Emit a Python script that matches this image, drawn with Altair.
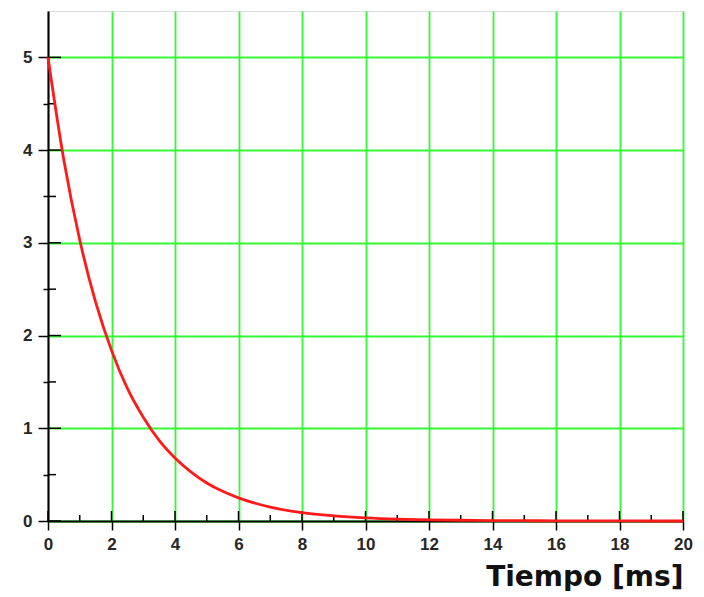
import altair as alt
import pandas as pd

# Curve values (tiempo in ms, amplitude)
t_vals = [0, 0.5, 1, 1.5, 2, 2.5, 3, 3.5, 4, 4.5, 5, 5.5, 6, 7, 8, 9, 10, 11, 12, 13, 14, 15, 16, 17, 18, 19, 20]
v_vals = [5.0, 3.89, 3.03, 2.36, 1.84, 1.43, 1.12, 0.87, 0.68, 0.53, 0.41, 0.32, 0.25, 0.15, 0.09, 0.056, 0.034, 0.02, 0.012, 0.008, 0.005, 0.003, 0.002, 0.001, 0.001, 0.0, 0.0]

x_major = [0, 2, 4, 6, 8, 10, 12, 14, 16, 18, 20]
x_minor = [1, 3, 5, 7, 9, 11, 13, 15, 17, 19]
y_major = [0, 1, 2, 3, 4, 5]
y_minor = [0.5, 1.5, 2.5, 3.5, 4.5]

W, H = 635, 510
FONT = "DejaVu Sans"
LFONT = "Liberation Sans"

curve = pd.DataFrame({"t": t_vals, "v": v_vals})

xscale = alt.Scale(domain=[0, 20], nice=False, zero=False)
yscale = alt.Scale(domain=[0, 5.5], nice=False, zero=False)

x_axis = alt.Axis(
    values=sorted(x_major + x_minor),
    labelExpr="datum.value % 2 === 0 ? format(datum.value, 'd') : ''",
    tickSize={"condition": {"test": "datum.value % 2 === 0", "value": 9}, "value": 5},
    tickColor="black", tickWidth=1.5,
    domainColor="black", domainWidth=2,
    grid=True,
    gridColor={"condition": {"test": "datum.value % 2 === 0", "value": "#33f833"}, "value": "transparent"},
    gridWidth=1.8,
    labelFont=LFONT, labelFontSize=17, labelFontWeight="bold", labelColor="#262626",
    labelPadding=6, labelFlush=False,
    title="Tiempo [ms]", titleFont=FONT, titleFontSize=28, titleFontWeight="bold",
    titleColor="#111", titleAnchor="end", titleAlign="right", titlePadding=11,
)
y_axis = alt.Axis(
    values=sorted(y_major + y_minor),
    labelExpr="datum.value % 1 === 0 ? format(datum.value, 'd') : ''",
    tickSize={"condition": {"test": "datum.value % 1 === 0", "value": 10}, "value": 5},
    tickColor="black", tickWidth=1.5,
    domainColor="black", domainWidth=2,
    grid=True,
    gridColor={"condition": {"test": "datum.value % 1 === 0", "value": "#33f833"}, "value": "transparent"},
    gridWidth=1.8,
    labelFont=LFONT, labelFontSize=17, labelFontWeight="bold", labelColor="#262626",
    labelPadding=6, labelFlush=False,
    title=None,
)

line = alt.Chart(curve).mark_line(color="#ff1a1a", strokeWidth=2.8, interpolate="monotone").encode(
    x=alt.X("t:Q", scale=xscale, axis=x_axis),
    y=alt.Y("v:Q", scale=yscale, axis=y_axis),
)

# inward halves of the crossing tick marks
def xin(vals, length):
    return alt.Chart(pd.DataFrame({"t": vals})).mark_rule(color="black", strokeWidth=1.5).encode(
        x=alt.X("t:Q", scale=xscale), y=alt.value(H - length), y2=alt.value(H))

def yin(vals, length):
    return alt.Chart(pd.DataFrame({"v": vals})).mark_rule(color="black", strokeWidth=1.5).encode(
        y=alt.Y("v:Q", scale=yscale), x=alt.value(0), x2=alt.value(length))

chart = alt.layer(
    xin(x_major, 10), xin(x_minor, 6), yin(y_major, 13), yin(y_minor, 8), line
).properties(
    width=W, height=H,
    autosize=alt.AutoSizeParams(type="none"),
    padding={"left": 40, "top": 3, "right": 13, "bottom": 70},
).configure_view(stroke="black", strokeWidth=1.5).configure(background="white")

chart.save("out.html", embed_options={"renderer": "svg", "actions": False})
